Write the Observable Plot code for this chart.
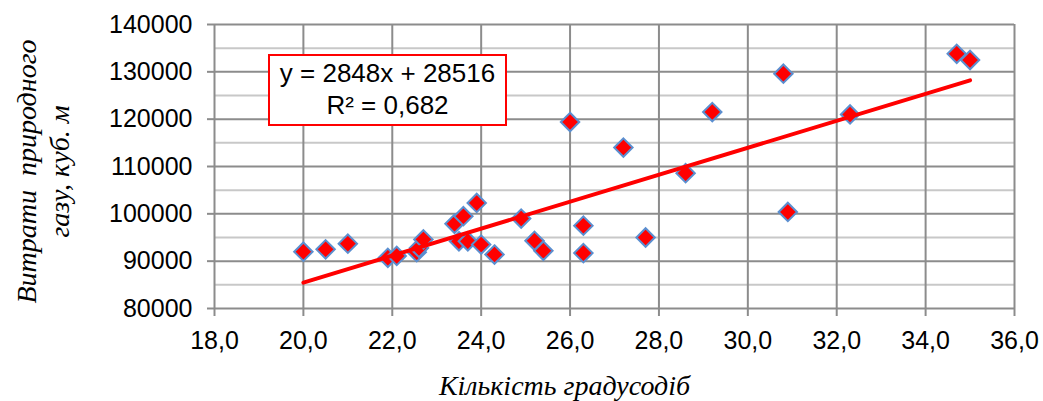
<!DOCTYPE html>
<html>
<head>
<meta charset="utf-8">
<script src="https://cdn.jsdelivr.net/npm/d3@7"></script>
<script src="https://cdn.jsdelivr.net/npm/@observablehq/plot@0.6"></script>
<style>
  html, body { margin: 0; padding: 0; background: white; }
  #wrap { position: relative; width: 1043px; height: 401px; }
  #eq {
    position: absolute; left: 268px; top: 54px; width: 235px; height: 67px;
    border: 2px solid #ff0000; background: white;
    font-family: "Liberation Sans", Arial, sans-serif; font-size: 26px;
    line-height: 32px; text-align: center; color: #000; padding-top: 1px;
    box-sizing: content-box;
  }
</style>
</head>
<body>
<div id="wrap"></div>
<script>
// ---- data ----
const degreeDays = [20.0, 20.5, 21.0, 21.9, 22.1, 22.55, 22.6, 22.7, 23.4, 23.5, 23.6, 23.7, 23.9, 24.0, 24.3, 24.9, 25.2, 25.4, 26.0, 26.3, 26.3, 27.2, 27.7, 28.6, 29.2, 30.8, 30.9, 32.3, 34.7, 35.0];
const gasUse = [92000, 92500, 93700, 90700, 91100, 91900, 92800, 94600, 97900, 94200, 99500, 94200, 102300, 93500, 91400, 99000, 94300, 92200, 119400, 97500, 91700, 114000, 95000, 108600, 121500, 129600, 100400, 121000, 133800, 132500];
const xTicks = [18, 20, 22, 24, 26, 28, 30, 32, 34, 36];
const yTicks = [80000, 90000, 100000, 110000, 120000, 130000, 140000];
const yMinorTicks = [85000, 95000, 105000, 115000, 125000, 135000];
const trendSlope = 2848;
const trendIntercept = 28516;
const equationText = "y = 2848x + 28516";
const r2Text = "R² = 0,682";
const xTitle = "Кількість градусодіб";
const yTitle = "Витрати\u00a0 природного\nгазу, куб. м";

const points = degreeDays.map((x, i) => ({x, y: gasUse[i]}));
const xExt = d3.extent(degreeDays);
const trend = xExt.map(x => ({x, y: trendSlope * x + trendIntercept}));

const gridMajor = "#8c8c8c";
const gridMinor = "#c8c8c8";
const serif = "'Liberation Serif', 'Times New Roman', serif";

const chart = Plot.plot({
  width: 1043,
  height: 401,
  marginLeft: 214,
  marginRight: 29,
  marginTop: 24,
  marginBottom: 93,
  x: {domain: [18, 36]},
  y: {domain: [80000, 140000]},
  style: {fontFamily: "'Liberation Sans', Arial, sans-serif", fontSize: "25px", color: "#000", background: "white", overflow: "visible"},
  marks: [
    Plot.gridY(yMinorTicks, {stroke: gridMinor, strokeOpacity: 1, strokeWidth: 2}),
    Plot.gridY(yTicks, {stroke: gridMajor, strokeOpacity: 1, strokeWidth: 2}),
    Plot.gridX(xTicks, {stroke: gridMajor, strokeOpacity: 1, strokeWidth: 2}),
    Plot.axisX({ticks: xTicks, tickFormat: d => d.toFixed(1).replace(".", ","), tickSize: 8, tickPadding: 15, stroke: gridMajor, strokeWidth: 2, fill: "#000", label: null, fontSize: 25}),
    Plot.axisY({ticks: yTicks, tickFormat: d => String(d), tickSize: 7, tickPadding: 15, stroke: gridMajor, strokeWidth: 2, fill: "#000", label: null, fontSize: 25}),
    Plot.dot(points, {x: "x", y: "y", symbol: "diamond2", r: 8.3, fill: "#ff0000", stroke: "#5b8fd0", strokeWidth: 2}),
    Plot.line(trend, {x: "x", y: "y", stroke: "#ff0000", strokeWidth: 4}),
    Plot.text([xTitle], {frameAnchor: "bottom", textAnchor: "middle", lineAnchor: "middle", dy: 78, dx: -50, fontFamily: serif, fontStyle: "italic", fontSize: 28, fill: "#000"}),
    Plot.text([yTitle], {frameAnchor: "left", textAnchor: "middle", lineAnchor: "middle", rotate: -90, dx: -173, dy: 5, lineHeight: 1.18, fontFamily: serif, fontStyle: "italic", fontSize: 28, fill: "#000"})
  ]
});

const wrap = document.getElementById("wrap");
wrap.appendChild(chart);
const eq = document.createElement("div");
eq.id = "eq";
eq.innerHTML = equationText + "<br>" + r2Text;
wrap.appendChild(eq);
</script>
</body>
</html>
